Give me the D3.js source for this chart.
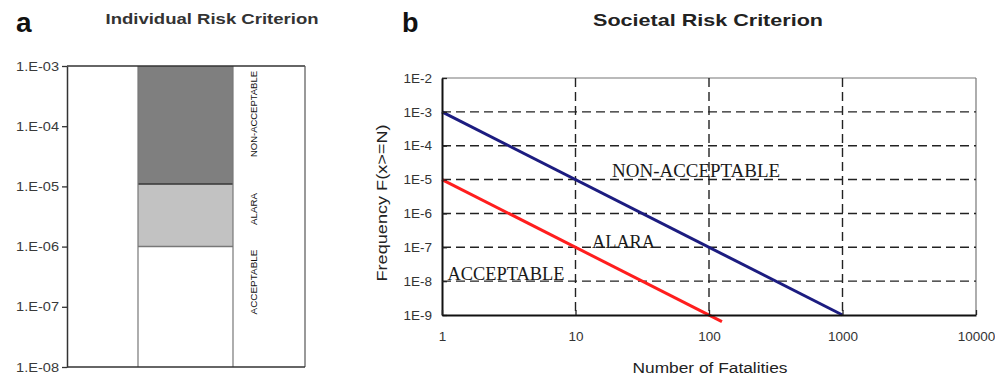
<!DOCTYPE html>
<html>
<head>
<meta charset="utf-8">
<script src="https://cdn.jsdelivr.net/npm/d3@7"></script>
<style>
	body { margin: 0; background: #fff; }
</style>
</head>
<body>
<svg id="chart" width="995" height="380" font-family="Liberation Sans, Arial, sans-serif"></svg>
<script>
"use strict";

// panel a: individual risk bands
var irTicks = [1e-3, 1e-4, 1e-5, 1e-6, 1e-7, 1e-8];
var irTickLabels = ["1.E-03", "1.E-04", "1.E-05", "1.E-06", "1.E-07", "1.E-08"];
var irBandNames = ["NON-ACCEPTABLE", "ALARA", "ACCEPTABLE"];
var irBandHigh = [1e-3, 1.1e-5, 1e-6];
var irBandLow = [1.1e-5, 1e-6, 1e-8];

// panel b: societal risk F-N lines
var srYTicks = [1e-2, 1e-3, 1e-4, 1e-5, 1e-6, 1e-7, 1e-8, 1e-9];
var srYTickLabels = ["1E-2", "1E-3", "1E-4", "1E-5", "1E-6", "1E-7", "1E-8", "1E-9"];
var srXTicks = [1, 10, 100, 1000, 10000];
var srXTickLabels = ["1", "10", "100", "1000", "10000"];
var upperLimitN = [1, 1000];
var upperLimitF = [1e-3, 1e-9];
var lowerLimitN = [1, 125];
var lowerLimitF = [1e-5, 6.4e-10];
var regionNames = ["NON-ACCEPTABLE", "ALARA", "ACCEPTABLE"];
var regionN = [18.8, 13.3, 1.1];
var regionF = [1.17e-5, 9.8e-8, 1.08e-8];

const svg = d3.select("#chart");
const txt = "#222";
const sans = "'Liberation Sans', Arial, sans-serif";

// the scanned figure's lettering runs wider than Liberation Sans, stretch to fit
function widen(sel, k) {
	sel.each(function() {
		const w = this.getComputedTextLength();
		d3.select(this).attr("textLength", w * k).attr("lengthAdjust", "spacingAndGlyphs");
	});
}

// ---------- panel a ----------
const a = { left: 67, right: 305, top: 66, bottom: 367, barL: 138, barR: 233 };
const yA = d3.scaleLog().domain([1e-8, 1e-3]).range([a.bottom, a.top]);
const bandFill = ["#7f7f7f", "#c2c2c2", "#ffffff"];

svg.append("text").attr("x", 16).attr("y", 32).attr("font-size", 28).attr("font-weight", "bold").attr("fill", "#111").text("a");
svg.append("text").attr("x", 212).attr("y", 24).attr("text-anchor", "middle").attr("font-size", 15.5).attr("font-weight", "bold").attr("fill", "#333")
	.attr("textLength", 213).attr("lengthAdjust", "spacingAndGlyphs").text("Individual Risk Criterion");

svg.selectAll("rect.band")
	.data(irBandNames)
	.enter()
	.append("rect")
		.attr("class", "band")
		.attr("x", a.barL)
		.attr("width", a.barR - a.barL)
		.attr("y", (d, i) => yA(irBandHigh[i]))
		.attr("height", (d, i) => yA(irBandLow[i]) - yA(irBandHigh[i]))
		.attr("fill", (d, i) => bandFill[i]);

// band boundaries
svg.append("line").attr("x1", a.barL).attr("x2", a.barR).attr("y1", yA(irBandLow[0])).attr("y2", yA(irBandLow[0])).attr("stroke", "#333").attr("stroke-width", 1.5);
svg.append("line").attr("x1", a.barL).attr("x2", a.barR).attr("y1", yA(irBandLow[1])).attr("y2", yA(irBandLow[1])).attr("stroke", "#777").attr("stroke-width", 1.5);
[a.barL, a.barR].forEach(x => {
	svg.append("line").attr("x1", x).attr("x2", x).attr("y1", a.top).attr("y2", a.bottom).attr("stroke", "#777").attr("stroke-width", 1.2);
});

// frame
svg.append("line").attr("x1", a.left).attr("x2", a.right).attr("y1", a.top).attr("y2", a.top).attr("stroke", "#333").attr("stroke-width", 1.5);
svg.append("line").attr("x1", a.right).attr("x2", a.right).attr("y1", a.top).attr("y2", a.bottom).attr("stroke", "#555").attr("stroke-width", 1.2);
svg.append("line").attr("x1", a.left).attr("x2", a.right).attr("y1", a.bottom).attr("y2", a.bottom).attr("stroke", "#333").attr("stroke-width", 1.5);

const axA = svg.append("g")
	.attr("transform", `translate(${a.left},0)`)
	.call(d3.axisLeft(yA).tickValues(irTicks).tickFormat((d, i) => irTickLabels[i]).tickSize(5).tickSizeOuter(0));
axA.select(".domain").attr("stroke", "#333").attr("stroke-width", 1.5);
axA.selectAll(".tick line").attr("stroke", "#333").attr("stroke-width", 1.3);
axA.selectAll(".tick text").attr("x", -8).attr("fill", "#3a3a3a")
	.style("font-size", "13px").style("font-family", sans)
	.call(widen, 1.12);

const bandLabelLen = [86, 32, 65];
const bandLabelY = [114, 209, 282];
svg.selectAll("text.bandlabel")
	.data(irBandNames)
	.enter()
	.append("text")
		.attr("class", "bandlabel")
		.attr("transform", (d, i) => `translate(257,${bandLabelY[i]}) rotate(-90)`)
		.attr("text-anchor", "middle")
		.attr("font-size", 9)
		.attr("textLength", (d, i) => bandLabelLen[i])
		.attr("lengthAdjust", "spacingAndGlyphs")
		.attr("fill", "#111")
		.text(d => d);

// ---------- panel b ----------
const b = { left: 442, right: 976, top: 78, bottom: 315 };
const xB = d3.scaleLog().domain([1, 10000]).range([b.left, b.right]);
const yB = d3.scaleLog().domain([1e-9, 1e-2]).range([b.bottom, b.top]);

svg.append("text").attr("x", 402).attr("y", 32).attr("font-size", 27).attr("font-weight", "bold").attr("fill", "#111").text("b");
svg.append("text").attr("x", 708).attr("y", 26).attr("text-anchor", "middle").attr("font-size", 17).attr("font-weight", "bold").attr("fill", "#222")
	.attr("textLength", 230).attr("lengthAdjust", "spacingAndGlyphs").text("Societal Risk Criterion");

// frame top/right
svg.append("line").attr("x1", b.left).attr("x2", b.right).attr("y1", b.top).attr("y2", b.top).attr("stroke", "#777").attr("stroke-width", 1.2);
svg.append("line").attr("x1", b.right).attr("x2", b.right).attr("y1", b.top).attr("y2", b.bottom).attr("stroke", "#777").attr("stroke-width", 1.2);

// dashed grid
svg.append("g").selectAll("line")
	.data(srYTicks.slice(1, -1))
	.enter()
	.append("line")
		.attr("x1", b.left).attr("x2", b.right)
		.attr("y1", d => yB(d)).attr("y2", d => yB(d))
		.attr("stroke", "#222").attr("stroke-width", 1.4).attr("stroke-dasharray", "9,5");
svg.append("g").selectAll("line")
	.data(srXTicks.slice(1, -1))
	.enter()
	.append("line")
		.attr("x1", d => xB(d)).attr("x2", d => xB(d))
		.attr("y1", b.top).attr("y2", b.bottom)
		.attr("stroke", "#222").attr("stroke-width", 1.4).attr("stroke-dasharray", "9,5");

// F-N lines
const fnLine = d3.line().x(d => xB(d[0])).y(d => yB(d[1]));
svg.append("path")
	.datum(upperLimitN.map((n, i) => [n, upperLimitF[i]]))
	.attr("d", fnLine).attr("fill", "none").attr("stroke", "#1c1c80").attr("stroke-width", 3);
svg.append("path")
	.datum(lowerLimitN.map((n, i) => [n, lowerLimitF[i]]))
	.attr("d", fnLine).attr("fill", "none").attr("stroke", "#ff1e1e").attr("stroke-width", 3);

// axes, ticks pointing inward
const axBy = svg.append("g")
	.attr("transform", `translate(${b.left},0)`)
	.call(d3.axisLeft(yB).tickValues(srYTicks).tickFormat((d, i) => srYTickLabels[i]).tickSize(-5).tickSizeOuter(0).tickPadding(10));
axBy.select(".domain").attr("stroke", "#111").attr("stroke-width", 2);
axBy.selectAll(".tick line").attr("stroke", "#222").attr("stroke-width", 1.3);
axBy.selectAll(".tick text").attr("fill", "#333").style("font-size", "13px").style("font-family", sans)
	.call(widen, 1.04);

const axBx = svg.append("g")
	.attr("transform", `translate(0,${b.bottom})`)
	.call(d3.axisBottom(xB).tickValues(srXTicks).tickFormat((d, i) => srXTickLabels[i]).tickSize(-5).tickSizeOuter(0).tickPadding(17));
axBx.select(".domain").attr("stroke", "#111").attr("stroke-width", 2);
axBx.selectAll(".tick line").attr("stroke", "#222").attr("stroke-width", 1.3);
axBx.selectAll(".tick text").attr("fill", "#333").style("font-size", "13px").style("font-family", sans)
	.call(widen, 1.04);

svg.append("text").attr("x", 710).attr("y", 373).attr("text-anchor", "middle").attr("font-size", 14).attr("fill", txt)
	.attr("textLength", 155).attr("lengthAdjust", "spacingAndGlyphs").text("Number of Fatalities");
svg.append("text").attr("transform", "translate(387,203) rotate(-90)").attr("text-anchor", "middle").attr("font-size", 14).attr("fill", txt)
	.attr("textLength", 157).attr("lengthAdjust", "spacingAndGlyphs").text("Frequency F(x>=N)");

// region labels
const regionLen = [168, 63, 117];
svg.selectAll("text.region")
	.data(regionNames)
	.enter()
	.append("text")
		.attr("class", "region")
		.attr("x", (d, i) => xB(regionN[i]))
		.attr("y", (d, i) => yB(regionF[i]))
		.style("font-family", "'Liberation Serif', 'Times New Roman', serif")
		.style("font-size", "18px")
		.attr("textLength", (d, i) => regionLen[i])
		.attr("lengthAdjust", "spacingAndGlyphs")
		.attr("fill", "#1a1a1a")
		.text(d => d);
</script>
</body>
</html>
